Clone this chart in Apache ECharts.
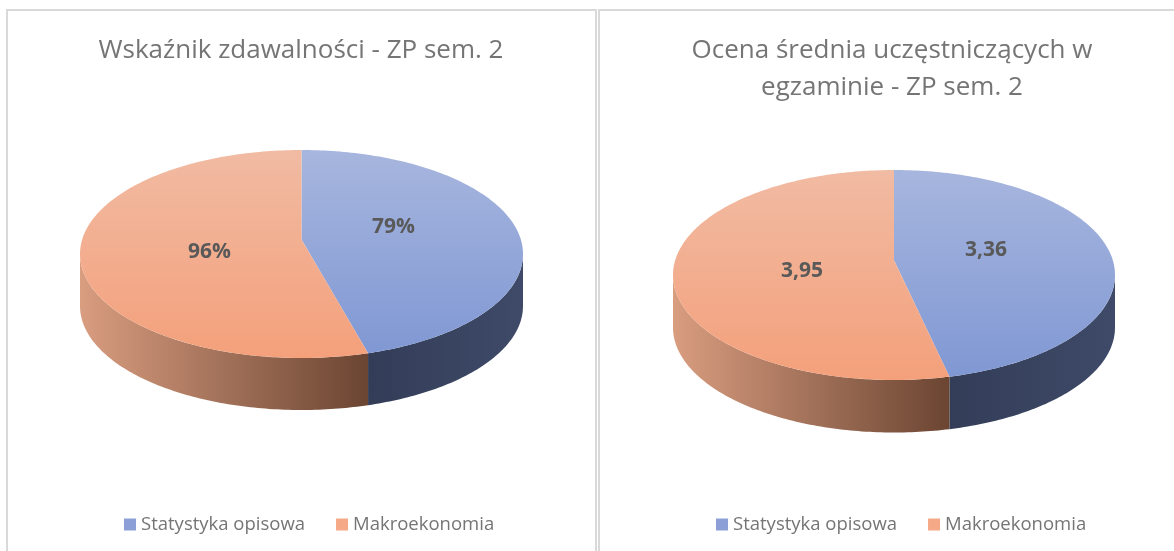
<!DOCTYPE html>
<html><head><meta charset="utf-8">
<script src="https://cdn.jsdelivr.net/npm/echarts@6/dist/echarts.min.js"></script>
<style>html,body{margin:0;padding:0;background:#fff}#c{width:1174px;height:551px}</style>
</head><body><div id="c"></div>
<script>
// ---- data ----
const categories = ['Statystyka opisowa', 'Makroekonomia'];
const passRateValues = [79, 96];
const passRateLabels = ['79%', '96%'];
const avgGradeValues = [3.36, 3.95];
const avgGradeLabels = ['3,36', '3,95'];
const chartTitles = ['Wskaźnik zdawalności - ZP sem. 2', 'Ocena średnia uczęstniczących w\negzaminie - ZP sem. 2'];

// ---- styles ----
const FONT = '"Open Sans", "Noto Sans", sans-serif';
const legendColors = ['#8c9fd6', '#f5a987'];
const topColors = [['#a7b6de', '#7f97d3'], ['#f1bba3', '#f4a07b']];
const sideColors = [['#333d58', '#3e4a68'], ['#d99d80', '#6b4532']];
const DEPTH = 0.5;     // side height in y-axis units
const VERTEX_Y = 0.14; // perspective shift of the pie centre

const panels = [
  { values: passRateValues, labels: passRateLabels },
  { values: avgGradeValues, labels: avgGradeLabels }
];

function sliceAngles(values) {
  const total = values.reduce((a, b) => a + b, 0);
  let acc = 0;
  return values.map(v => { const s = acc / total * 360; acc += v; return [s, acc / total * 360]; });
}

function makeRenderItem(panelIdx, sliceIdx) {
  return function (params, api) {
    const p = panels[panelIdx];
    const ang = sliceAngles(p.values)[sliceIdx];
    const rad = d => d * Math.PI / 180;
    const P = (t, dy) => api.coord([Math.sin(rad(t)), Math.cos(rad(t)) - (dy || 0)]);
    const arc = (a, b, dy) => {
      const pts = []; const n = Math.max(2, Math.ceil(b - a));
      for (let i = 0; i <= n; i++) pts.push(P(a + (b - a) * i / n, dy));
      return pts;
    };
    const children = [];
    // visible outer wall
    const s0 = Math.max(ang[0], 90), s1 = Math.min(ang[1], 270);
    if (s1 > s0) {
      const upper = arc(s0, s1, 0);
      const lower = arc(s0, s1, DEPTH).reverse();
      const xs = upper.map(q => q[0]);
      const xmin = Math.min(...xs), xmax = Math.max(...xs);
      children.push({
        type: 'polygon',
        shape: { points: upper.concat(lower) },
        style: {
          fill: { type: 'linear', global: true, x: xmin, y: 0, x2: xmax, y2: 0,
            colorStops: [{ offset: 0, color: sideColors[sliceIdx][0] }, { offset: 1, color: sideColors[sliceIdx][1] }] },
          stroke: null
        }
      });
    }
    // top face
    const top = api.coord([0, 1]), bot = api.coord([0, -1]);
    const centre = api.coord([0, VERTEX_Y]);
    children.push({
      type: 'polygon',
      shape: { points: [centre].concat(arc(ang[0], ang[1], 0)) },
      style: {
        fill: { type: 'linear', global: true, x: 0, y: top[1], x2: 0, y2: bot[1],
          colorStops: [{ offset: 0, color: topColors[sliceIdx][0] }, { offset: 1, color: topColors[sliceIdx][1] }] },
        stroke: null
      }
    });
    // data label
    const mid = rad((ang[0] + ang[1]) / 2);
    const lp = api.coord([0.42 * Math.sin(mid), VERTEX_Y + 0.8 * Math.cos(mid)]);
    children.push({
      type: 'text',
      x: lp[0], y: lp[1],
      style: { text: p.labels[sliceIdx], align: 'center', verticalAlign: 'middle',
        font: 'bold 21px ' + FONT, fill: '#595959' }
    });
    return { type: 'group', children };
  };
}

const series = [];
[0, 1].forEach(pi => {
  categories.forEach((name, si) => {
    series.push({
      type: 'custom', name,
      coordinateSystem: 'cartesian2d', xAxisIndex: pi, yAxisIndex: pi,
      itemStyle: { color: legendColors[si] },
      data: [[0, 0, panels[pi].values[si]]],
      encode: { x: 0, y: 1 },
      renderItem: makeRenderItem(pi, si),
      silent: true, animation: false
    });
  });
});

const titleStyle = { fontFamily: FONT, fontSize: 26, fontWeight: 'normal', color: '#757575', lineHeight: 37 };
const legendBase = { data: categories, top: 510, itemWidth: 12, itemHeight: 12, itemGap: 31, icon: 'rect',
  selectedMode: false, textStyle: { fontFamily: FONT, fontSize: 18.5, color: '#757575' } };

const chart = echarts.init(document.getElementById('c'), null, { renderer: 'canvas' });
chart.setOption({
  backgroundColor: '#ffffff',
  animation: false,
  title: [
    { text: chartTitles[0], left: 301, top: 32, padding: 0, textAlign: 'center', textStyle: titleStyle },
    { text: chartTitles[1], left: 892, top: 32, padding: 0, textAlign: 'center', textStyle: titleStyle }
  ],
  legend: [
    Object.assign({}, legendBase, { left: 119 }),
    Object.assign({}, legendBase, { left: 711 })
  ],
  grid: [
    { left: 80, width: 443, top: 150, height: 208 },
    { left: 673, width: 442, top: 170, height: 210 }
  ],
  xAxis: [
    { type: 'value', gridIndex: 0, min: -1, max: 1, show: false },
    { type: 'value', gridIndex: 1, min: -1, max: 1, show: false }
  ],
  yAxis: [
    { type: 'value', gridIndex: 0, min: -1, max: 1, show: false },
    { type: 'value', gridIndex: 1, min: -1, max: 1, show: false }
  ],
  graphic: [
    { type: 'rect', shape: { x: 7, y: 10, width: 589, height: 600 }, style: { fill: null, stroke: '#d9d9d9', lineWidth: 2 }, silent: true, z: -1 },
    { type: 'rect', shape: { x: 599, y: 10, width: 600, height: 600 }, style: { fill: null, stroke: '#d9d9d9', lineWidth: 2 }, silent: true, z: -1 }
  ],
  series
});
</script>
</body></html>
